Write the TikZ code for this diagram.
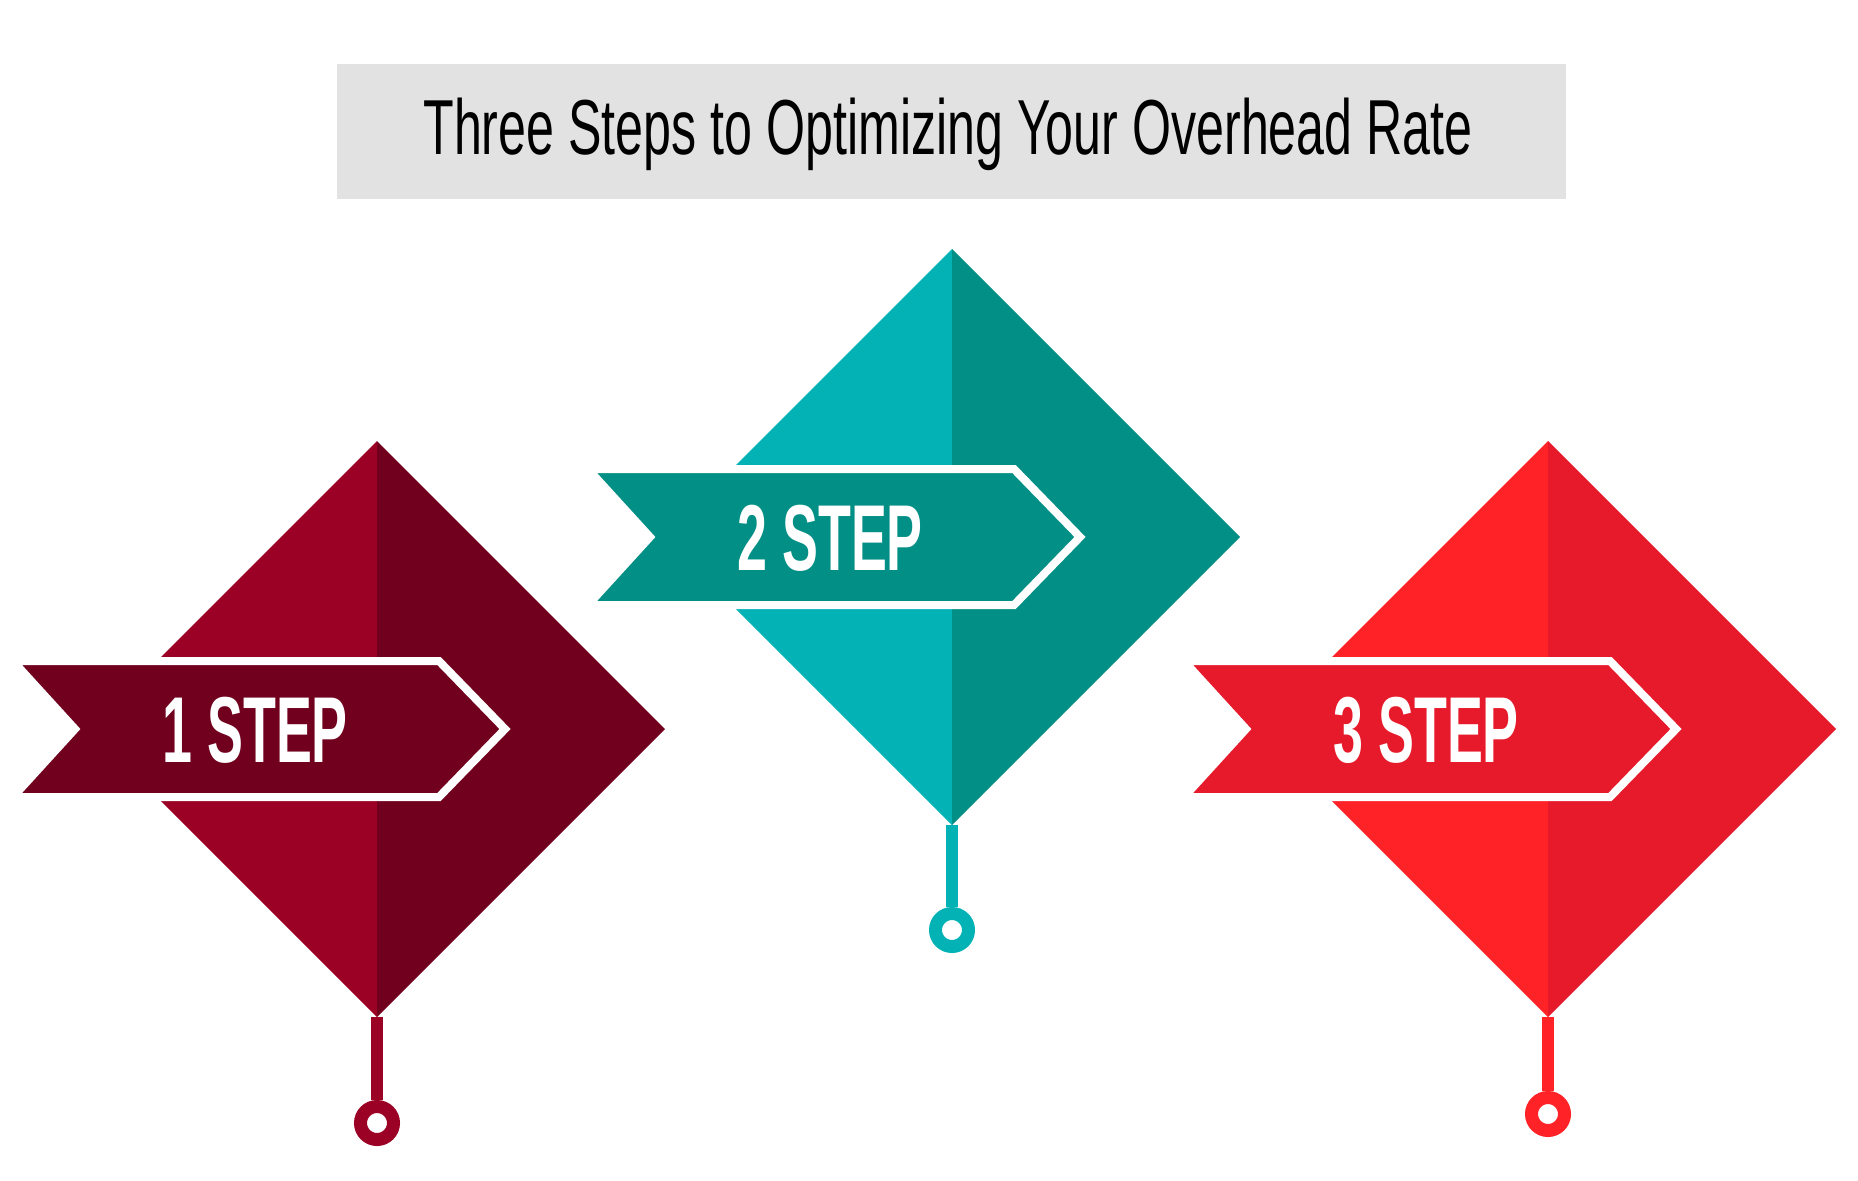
\documentclass[tikz,border=0pt]{standalone}
\usepackage{fontspec}
\usepackage{tikz}
\newfontfamily\titlefont{Liberation Sans}[FakeStretch=0.643]
\newfontfamily\labelfont{Liberation Sans}[FakeStretch=0.575]
\definecolor{boxgray}{HTML}{E2E2E2}
\definecolor{wineL}{HTML}{9B0025}
\definecolor{wineD}{HTML}{71001F}
\definecolor{tealL}{HTML}{02B2B4}
\definecolor{tealD}{HTML}{028F86}
\definecolor{redL}{HTML}{FF2227}
\definecolor{redD}{HTML}{E61A2A}
\tikzset{banner/.style={draw=white,line width=4pt,line join=miter},
         ringnode/.style={circle,draw=#1,line width=6.5pt,minimum size=16.5pt,inner sep=0},
         steplabel/.style={text=white,inner sep=0,anchor=base west,
                           font=\labelfont\bfseries\fontsize{46.8pt}{50pt}\selectfont}}

\begin{document}
\begin{tikzpicture}[x=0.5pt,y=-0.5pt]
\useasboundingbox (0,0) rectangle (1858,1180);
\fill[boxgray] (337,64) rectangle (1566,199);
\node[inner sep=0,anchor=base west,font=\titlefont\fontsize{39pt}{44pt}\selectfont] (title) at (423,154) {Three Steps to Optimizing Your Overhead Rate};

%% one diamond per step, ring and stem below it
\foreach \cx/\cy/\lite/\dark/\num/\ry in {377/729/wineL/wineD/1/394, 952/537/tealL/tealD/2/393, 1548/729/redL/redD/3/385} {
\begin{scope}[shift={(\cx,\cy)}]
\node[ringnode=\lite] (ring\num) at (0,\ry) {};
\coordinate (bot\num) at (0,288);
\draw[\lite,line width=6pt] (bot\num) -- (ring\num.north);
\fill[\lite] (0,-288) -- (-288,0) -- (0,288) -- cycle;
\fill[\dark] (0,-288) -- (288,0) -- (0,288) -- cycle;
\filldraw[banner,fill=\dark] (-364,-68) -- (62,-68) -- (128,0) -- (62,68) -- (-364,68) -- (-302,0) -- cycle;
\node[steplabel] (step\num) at (-215,33.5) {\num{} STEP};
\end{scope}
}
\end{tikzpicture}
\end{document}
